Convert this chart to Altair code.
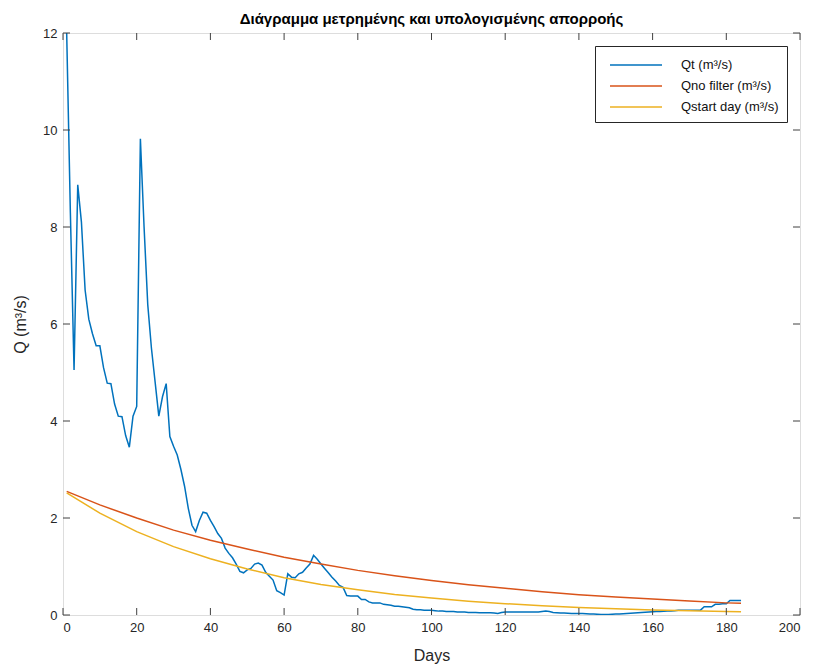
import altair as alt
import pandas as pd

# ---- data ----
qt_days = list(range(1, 185))
qt_values = [
    12.0, 8.3, 5.05, 8.87, 8.1, 6.7, 6.1, 5.8, 5.55, 5.55,
    5.1, 4.78, 4.77, 4.35, 4.1, 4.09, 3.7, 3.46, 4.1, 4.3,
    9.82, 8.0, 6.4, 5.5, 4.8, 4.1, 4.5, 4.77, 3.68, 3.48,
    3.3, 3.0, 2.65, 2.2, 1.85, 1.72, 1.95, 2.12, 2.1, 1.95,
    1.82, 1.68, 1.58, 1.38, 1.27, 1.18, 1.05, 0.9, 0.87, 0.93,
    0.96, 1.05, 1.07, 1.03, 0.88, 0.8, 0.72, 0.5, 0.46, 0.41,
    0.85, 0.78, 0.77, 0.85, 0.88, 0.97, 1.05, 1.23, 1.15, 1.05,
    0.96, 0.87, 0.78, 0.7, 0.61, 0.57, 0.4, 0.39, 0.39, 0.39,
    0.32, 0.32, 0.27, 0.25, 0.25, 0.25, 0.22, 0.21, 0.2, 0.18,
    0.18, 0.17, 0.16, 0.15, 0.12, 0.11, 0.11, 0.1, 0.1, 0.1,
    0.09, 0.08, 0.08, 0.07, 0.07, 0.07, 0.06, 0.06, 0.06, 0.05,
    0.05, 0.05, 0.045, 0.045, 0.045, 0.045, 0.04, 0.03, 0.05, 0.06,
    0.06, 0.06, 0.06, 0.06, 0.06, 0.06, 0.06, 0.06, 0.06, 0.07,
    0.08, 0.07, 0.05, 0.045, 0.04, 0.04, 0.035, 0.03, 0.03, 0.03,
    0.03, 0.025, 0.02, 0.02, 0.015, 0.01, 0.01, 0.01, 0.015, 0.02,
    0.02, 0.025, 0.03, 0.035, 0.04, 0.045, 0.05, 0.055, 0.06, 0.065,
    0.07, 0.07, 0.075, 0.08, 0.085, 0.09, 0.1, 0.1, 0.1, 0.1,
    0.1, 0.1, 0.1, 0.17, 0.17, 0.17, 0.22, 0.22, 0.23, 0.23,
    0.3, 0.3, 0.3, 0.3,
]

model_days = [1, 10, 20, 30, 40, 50, 60, 70, 80, 90, 100, 110, 120, 130, 140, 150, 160, 170, 180, 184]
qno_values = [2.55, 2.27, 2.00, 1.75, 1.54, 1.36, 1.19, 1.05, 0.92, 0.81,
              0.71, 0.625, 0.55, 0.48, 0.42, 0.37, 0.33, 0.29, 0.25, 0.24]
qstart_values = [2.52, 2.10, 1.72, 1.41, 1.16, 0.95, 0.77, 0.63, 0.52, 0.425,
                 0.35, 0.285, 0.233, 0.19, 0.156, 0.128, 0.105, 0.086, 0.07, 0.065]

series_names = ["Qt (m³/s)", "Qno filter (m³/s)", "Qstart day (m³/s)"]
series_colors = ["#0072BD", "#D95319", "#EDB120"]

x_ticks = [0, 20, 40, 60, 80, 100, 120, 140, 160, 180, 200]
y_ticks = [0, 2, 4, 6, 8, 10, 12]

title_text = "Διάγραμμα μετρημένης και υπολογισμένης απορροής"
x_title = "Days"
y_title = "Q (m³/s)"

# ---- build tables ----
rows = []
for d, v in zip(qt_days, qt_values):
    rows.append({"day": d, "Q": v, "series": series_names[0], "order": 0})
for d, v in zip(model_days, qno_values):
    rows.append({"day": d, "Q": v, "series": series_names[1], "order": 1})
for d, v in zip(model_days, qstart_values):
    rows.append({"day": d, "Q": v, "series": series_names[2], "order": 2})
df = pd.DataFrame(rows)

W, H = 737, 582
TL = 7
AX = "#404040"
FONT = "Liberation Sans"

xs = alt.Scale(domain=[0, 200], nice=False, zero=False)
ys = alt.Scale(domain=[0, 12], nice=False)

lines = alt.Chart(df).mark_line(strokeWidth=1.5, clip=True).encode(
    x=alt.X("day:Q", scale=xs,
            axis=alt.Axis(values=x_ticks, title=x_title, grid=False, ticks=False, domain=False,
                          labelFontSize=13, labelPadding=6, titleFontSize=16,
                          titleFontWeight="normal", titlePadding=13, labelColor="#262626",
                          titleColor="#262626", labelFont=FONT, titleFont=FONT)),
    y=alt.Y("Q:Q", scale=ys,
            axis=alt.Axis(values=y_ticks, title=y_title, grid=False, ticks=False, domain=False,
                          labelFontSize=13, labelPadding=6, titleFontSize=16,
                          titleFontWeight="normal", titlePadding=14, labelColor="#262626",
                          titleColor="#262626", labelFont=FONT, titleFont=FONT)),
    color=alt.Color("series:N",
                    scale=alt.Scale(domain=series_names, range=series_colors),
                    legend=alt.Legend(title=None, orient="top-right", offset=13,
                                      strokeColor="#262626", fillColor="white",
                                      padding=8, labelFontSize=13, labelFont=FONT,
                                      labelColor="#111111",
                                      symbolType="M-2.6,0H2.6", symbolSize=400,
                                      symbolStrokeWidth=1.5, symbolOffset=22,
                                      rowPadding=3, labelOffset=34, labelLimit=300)),
    order="order:Q",
    detail="series:N",
)

xt = pd.DataFrame({"t": x_ticks})
yt = pd.DataFrame({"t": y_ticks})

bottom_ticks = alt.Chart(xt).mark_rule(color=AX, strokeWidth=1).encode(
    x=alt.X("t:Q", scale=xs), y=alt.value(H), y2=alt.value(H - TL))
top_ticks = alt.Chart(xt).mark_rule(color=AX, strokeWidth=1).encode(
    x=alt.X("t:Q", scale=xs), y=alt.value(0), y2=alt.value(TL))
left_ticks = alt.Chart(yt).mark_rule(color=AX, strokeWidth=1).encode(
    y=alt.Y("t:Q", scale=ys), x=alt.value(0), x2=alt.value(TL))
right_ticks = alt.Chart(yt).mark_rule(color=AX, strokeWidth=1).encode(
    y=alt.Y("t:Q", scale=ys), x=alt.value(W), x2=alt.value(W - TL))

chart = alt.layer(lines, bottom_ticks, top_ticks, left_ticks, right_ticks).properties(
    width=W, height=H,
    title=alt.TitleParams(title_text, fontSize=15, fontWeight="bold", font=FONT,
                          color="black", offset=0, anchor="middle"),
    autosize=alt.AutoSizeParams(type="none"),
    padding={"left": 55, "top": 25, "right": 10, "bottom": 52},
).configure_view(stroke=AX, strokeWidth=1).configure(background="white")

chart.save("out.html", embed_options={"renderer": "svg", "actions": False})
